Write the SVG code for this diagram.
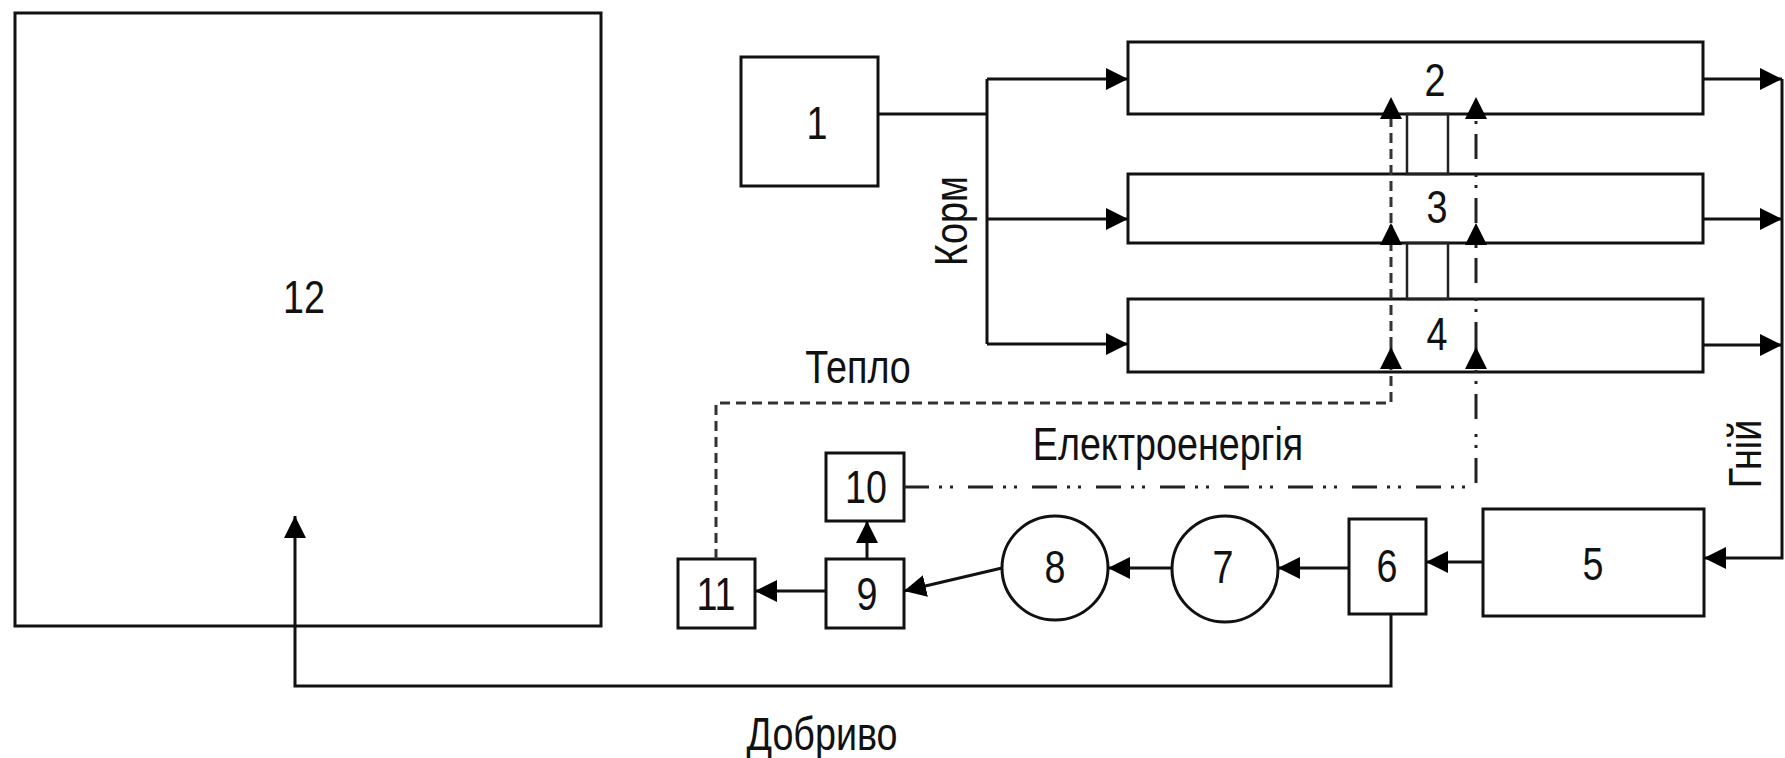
<svg xmlns="http://www.w3.org/2000/svg" width="1785" height="758" viewBox="0 0 1785 758">
<style>
.box{fill:#fff;stroke:#111;stroke-width:3}
.ln{fill:none;stroke:#111;stroke-width:3}
.thin{fill:none;stroke:#222;stroke-width:2.5}
.dash{fill:none;stroke:#333;stroke-width:3;stroke-dasharray:10 6}
.dd{fill:none;stroke:#222;stroke-width:3;stroke-dasharray:25 10 3 8 3 15}
.t{font-family:"Liberation Sans",Arial,sans-serif;font-size:46px;fill:#111;text-anchor:middle}
</style>
<defs>
<marker id="ah" viewBox="0 0 22 22" refX="22" refY="11" markerWidth="22" markerHeight="22" markerUnits="userSpaceOnUse" orient="auto">
<path d="M0,0 L22,11 L0,22 z" fill="#000"/>
</marker>
</defs>
<rect width="1785" height="758" fill="#fff"/>

<g id="node12"><rect class="box" x="15" y="13" width="586" height="613"/>
<text class="t" transform="translate(304,313) scale(0.82,1)">12</text></g>
<g id="node1"><rect class="box" x="741" y="57" width="137" height="129"/>
<text class="t" transform="translate(817,139) scale(0.82,1)">1</text></g>
<g id="node2"><rect class="box" x="1128" y="42" width="575" height="72"/>
<text class="t" transform="translate(1435,96) scale(0.82,1)">2</text></g>
<g id="node3"><rect class="box" x="1128" y="174" width="575" height="69"/>
<text class="t" transform="translate(1437,223) scale(0.82,1)">3</text></g>
<g id="node4"><rect class="box" x="1128" y="299" width="575" height="73"/>
<text class="t" transform="translate(1437,350) scale(0.82,1)">4</text></g>
<g id="node5"><rect class="box" x="1483" y="509" width="221" height="107"/>
<text class="t" transform="translate(1593,580) scale(0.82,1)">5</text></g>
<g id="node6"><rect class="box" x="1349" y="519" width="77" height="95"/>
<text class="t" transform="translate(1387,582) scale(0.82,1)">6</text></g>
<g id="node7"><ellipse class="box" cx="1225" cy="569" rx="53" ry="53"/>
<text class="t" transform="translate(1223,583) scale(0.82,1)">7</text></g>
<g id="node8"><ellipse class="box" cx="1055" cy="568" rx="53" ry="52"/>
<text class="t" transform="translate(1055,583) scale(0.82,1)">8</text></g>
<g id="node9"><rect class="box" x="826" y="559" width="78" height="69"/>
<text class="t" transform="translate(867,610) scale(0.82,1)">9</text></g>
<g id="node10"><rect class="box" x="826" y="453" width="78" height="68"/>
<text class="t" transform="translate(866,503) scale(0.82,1)">10</text></g>
<g id="node11"><rect class="box" x="678" y="559" width="77" height="69"/>
<text class="t" transform="translate(716,610) scale(0.82,1)">11</text></g>

<g id="connectors">
<rect class="thin" x="1407" y="114" width="41" height="60"/>
<rect class="thin" x="1407" y="243" width="41" height="56"/>
<path class="ln" d="M878,114 H987 M987,79 V344"/>
<path class="ln" d="M987,79 H1128" marker-end="url(#ah)"/>
<path class="ln" d="M987,219 H1128" marker-end="url(#ah)"/>
<path class="ln" d="M987,344 H1128" marker-end="url(#ah)"/>
<path class="ln" d="M1703,79 H1782" marker-end="url(#ah)"/>
<path class="ln" d="M1703,219 H1782" marker-end="url(#ah)"/>
<path class="ln" d="M1703,345 H1782" marker-end="url(#ah)"/>
<path class="ln" d="M1782,79 V558 H1704" marker-end="url(#ah)"/>
<path class="ln" d="M1483,562 H1426" marker-end="url(#ah)"/>
<path class="ln" d="M1349,568 H1278" marker-end="url(#ah)"/>
<path class="ln" d="M1172,568 H1108" marker-end="url(#ah)"/>
<path class="ln" d="M1002,568 L904,591" marker-end="url(#ah)"/>
<path class="ln" d="M826,591 H755" marker-end="url(#ah)"/>
<path class="ln" d="M867,559 V521" marker-end="url(#ah)"/>
<path class="ln" d="M1391,614 V686 H295 V516" marker-end="url(#ah)"/>
<path class="dash" d="M716,559 V403 H1391 V347" marker-end="url(#ah)"/>
<path class="dash" d="M1391,347 V223" marker-end="url(#ah)"/>
<path class="dash" d="M1391,223 V97" marker-end="url(#ah)"/>
<path class="dd" d="M904,487 H1476 V347" marker-end="url(#ah)"/>
<path class="dd" d="M1476,347 V223" marker-end="url(#ah)"/>
<path class="dd" d="M1476,223 V97" marker-end="url(#ah)"/>
<text class="t" transform="translate(858,383) scale(0.82,1)">Тепло</text>
<text class="t" transform="translate(1168,460) scale(0.82,1)">Електроенергія</text>
<text class="t" transform="translate(822,750) scale(0.82,1)">Добриво</text>
<text class="t" transform="translate(967,221) rotate(-90) scale(0.82,1)">Корм</text>
<text class="t" transform="translate(1761,454) rotate(-90) scale(0.82,1)">Гній</text>
</g>
</svg>
